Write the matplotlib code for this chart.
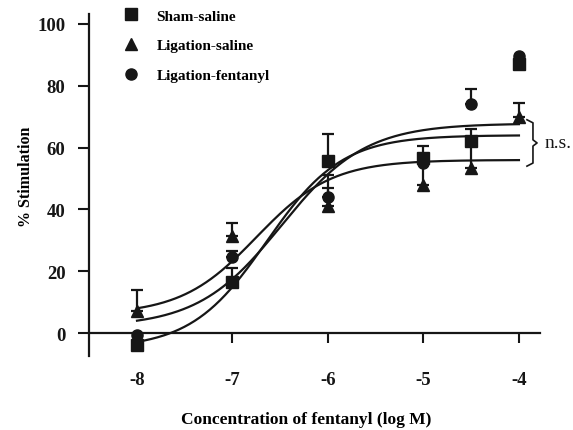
import numpy as np
import matplotlib
matplotlib.use("Agg")
import matplotlib.pyplot as plt

plt.rcParams['font.family'] = ['Liberation Serif', 'DejaVu Serif']
plt.rcParams['font.weight'] = 'bold'

# ---- data ----
conc = [-8, -7, -6, -5, -4.5, -4]
sham_saline = [-4, 16.5, 55.5, 56.5, 62, 87]
sham_saline_err = [0, 4.5, 9, 4, 4, 0]
lig_saline = [7, 31.5, 41, 48, 53.5, 70]
lig_saline_err = [7, 4, 10, 8, 8.5, 4.5]
lig_fentanyl = [-0.5, 24.5, 44, 55, 74, 89.5]
lig_fentanyl_err = [0, 2, 3, 3, 5, 0]

# fitted sigmoid (Hill) parameters: bottom, top, logEC50, slope
fit_sham = [-5, 64, -6.645, 1.1]
fit_lig_saline = [6, 56, -6.75, 1.1]
fit_lig_fentanyl = [2, 67.8, -6.485, 0.99]

series_labels = ['Sham-saline', 'Ligation-saline', 'Ligation-fentanyl']
xtick_vals = [-8, -7, -6, -5, -4]
ytick_vals = [0, 20, 40, 60, 80, 100]


def hill(x, p):
    b, t, ec, h = p
    return b + (t - b) / (1 + 10 ** ((ec - x) * h))


fig = plt.figure(figsize=(5.73, 4.31), dpi=100)
ax = fig.add_axes([0.1553, 0.1717, 0.787, 0.7935])

col = '#161616'
xs = np.linspace(-8, -4, 300)
for p in (fit_sham, fit_lig_saline, fit_lig_fentanyl):
    ax.plot(xs, hill(xs, p), color=col, lw=1.6, zorder=2)

specs = [
    (sham_saline, sham_saline_err, 's', 8),
    (lig_saline, lig_saline_err, '^', 8.5),
    (lig_fentanyl, lig_fentanyl_err, 'o', 8),
]
handles = []
for (vals, err, m, ms), lab in zip(specs, series_labels):
    e = np.array(err, dtype=float)
    idx = e > 0
    ax.errorbar(np.array(conc)[idx], np.array(vals)[idx],
                yerr=[np.zeros(idx.sum()), e[idx]], fmt='none', ecolor=col,
                elinewidth=1.6, capsize=4.5, capthick=1.6, zorder=3)
    h, = ax.plot(conc, vals, linestyle='none', marker=m, markersize=ms,
                 color=col, zorder=4, label=lab)
    handles.append(h)

ax.set_xlim(-8.503, -3.78)
ax.set_ylim(-7.4, 103.2)

ax.spines['top'].set_visible(False)
ax.spines['right'].set_visible(False)
ax.spines['bottom'].set_position(('data', 0))
for s in ('left', 'bottom'):
    ax.spines[s].set_linewidth(1.6)
    ax.spines[s].set_color(col)

ax.set_xticks(xtick_vals)
ax.set_xticklabels([str(v) for v in xtick_vals])
ax.set_yticks(ytick_vals)
ax.tick_params(axis='y', direction='out', length=8, width=1.5, pad=9,
               labelsize=13.5, colors=col)
ax.tick_params(axis='x', direction='out', length=7, width=1.5, pad=20,
               labelsize=13.5, colors=col)

ax.set_ylabel('% Stimulation', fontsize=11.5, fontweight='bold', va='center')
ax.yaxis.set_label_coords(-0.14, 0.526)
ax.set_xlabel('Concentration of fentanyl (log M)', fontsize=12.5,
              fontweight='bold', va='center')
ax.xaxis.set_label_coords(0.481, -0.184)

# n.s. bracket
bx0, bx1, bx2 = -3.916, -3.853, -3.81
ax.plot([bx0, bx1, bx1, bx2, bx1, bx1, bx0],
        [69, 68, 62.5, 61.5, 60.5, 55, 54],
        color=col, lw=1.2, clip_on=False, zorder=3)
ax.text(-3.73, 61.5, 'n.s.', fontsize=14, fontweight='normal',
        va='center', ha='left', color=col, clip_on=False)

leg = fig.legend(handles=handles, labels=series_labels, loc='upper left',
                 bbox_to_anchor=(123 / 573, 1 - 10 / 431), frameon=False,
                 fontsize=11, handlelength=1.0, handletextpad=1.2,
                 labelspacing=1.05, borderpad=0, borderaxespad=0,
                 numpoints=1)
for t in leg.get_texts():
    t.set_fontweight('bold')

fig.savefig('out.png', dpi=100)
